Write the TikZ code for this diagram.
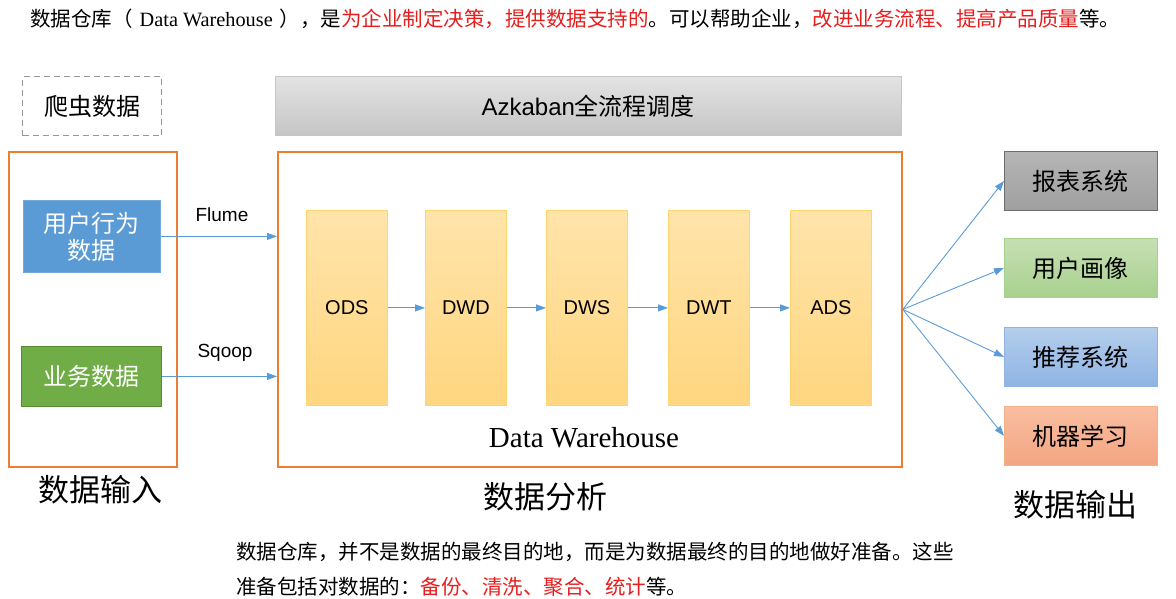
\documentclass[tikz,border=0pt]{standalone}
\usepackage{fontspec}
\setmainfont{Liberation Serif}
\setsansfont{Liberation Sans}
\newfontfamily\cjk{Noto Sans CJK SC}
\usetikzlibrary{arrows.meta}
\definecolor{orng}{RGB}{237,125,49}
\definecolor{arrblue}{RGB}{91,155,213}
\definecolor{boxblue}{RGB}{91,155,213}
\definecolor{boxgreen}{RGB}{112,173,71}
\definecolor{greenedge}{RGB}{84,140,50}
\definecolor{ylwtop}{RGB}{255,228,170}
\definecolor{ylwbot}{RGB}{255,214,128}
\definecolor{ylwedge}{RGB}{255,214,110}
\definecolor{redtxt}{RGB}{230,30,30}
\definecolor{dashgray}{RGB}{150,150,150}
\begin{document}
\begin{tikzpicture}[x=1pt,y=-1pt,
  orangebox/.style={draw=orng,line width=1.8pt,inner sep=0pt,anchor=north west},
  layerbox/.style={draw=ylwedge,line width=0.8pt,top color=ylwtop,bottom color=ylwbot,
     minimum width=81pt,minimum height=195pt,inner sep=0pt,anchor=north west,
     font=\sffamily\fontsize{20}{20}\selectfont},
  outbox/.style={line width=0.8pt,minimum width=153pt,minimum height=59pt,inner sep=0pt,
     anchor=north west,font=\cjk\fontsize{24}{24}\selectfont},
  inbox/.style={line width=0.8pt,inner sep=0pt,anchor=north west,text=white,
     font=\cjk\fontsize{24}{27}\selectfont,align=center},
  arr/.style={draw=arrblue,line width=0.9pt,-{Triangle[length=10pt,width=7pt]}},
  biglabel/.style={font=\cjk\fontsize{31}{31}\selectfont},
  edgelabel/.style={font=\sffamily\fontsize{19}{19}\selectfont}
]
\useasboundingbox (0,0) rectangle (1176,598);

% top text
\node[anchor=base west,inner sep=0pt,font=\cjk\fontsize{20.5}{20.5}\selectfont] (toptext) at (30,26)
 {数据仓库（\hspace{7pt}{\rmfamily\fontsize{20.3}{20.3}\selectfont Data Warehouse}\hspace{7pt}），是\textcolor{redtxt}{为企业制定决策，提供数据支持的}。可以帮助企业，\textcolor{redtxt}{改进业务流程、提高产品质量}等。};

% crawler box
\node[draw=dashgray,dashed,dash pattern=on 6pt off 4pt,line width=1.2pt,minimum width=139pt,minimum height=59pt,
  inner sep=0pt,anchor=north west,font=\cjk\fontsize{24}{24}\selectfont] (crawl) at (22,76) {爬虫数据};

% left orange
\node[orangebox,minimum width=168pt,minimum height=315pt] (inp) at (8,151) {};
\node[inbox,fill=boxblue,draw=boxblue!85!white,minimum width=137pt,minimum height=72pt] (user) at (23,200) {用户行为\\数据};
\node[inbox,fill=boxgreen,draw=greenedge,minimum width=140pt,minimum height=60pt] (biz) at (21,346) {业务数据};
\node[biglabel] (inlabel) at (100,490) {数据输入};

% azkaban
\node[top color=gray!22,bottom color=gray!45,draw=gray!45,line width=0.5pt,minimum width=626pt,minimum height=59pt,
  inner sep=0pt,anchor=north west,font=\fontsize{24}{24}\selectfont] (azk) at (275,76) {\sffamily Azkaban{\cjk 全流程调度}};

% middle orange
\node[orangebox,minimum width=624pt,minimum height=315pt] (dw) at (277,151) {};
\node[layerbox] (ods) at (306,210) {ODS};
\node[layerbox] (dwd) at (425,210) {DWD};
\node[layerbox] (dws) at (546,210) {DWS};
\node[layerbox] (dwt) at (668,210) {DWT};
\node[layerbox] (ads) at (790,210) {ADS};
\node[font=\rmfamily\fontsize{29}{29}\selectfont] (dwlabel) at (584,438) {Data Warehouse};
\node[biglabel] (anlabel) at (545,497) {数据分析};

\draw[arr] (ods.east) -- (dwd.west);
\draw[arr] (dwd.east) -- (dws.west);
\draw[arr] (dws.east) -- (dwt.west);
\draw[arr] (dwt.east) -- (ads.west);

% inputs arrows
\draw[arr] (user.east) -- (user.east -| dw.west);
\draw[arr] (biz.east) -- (biz.east -| dw.west);
\node[edgelabel] (flume) at (222,215) {Flume};
\node[edgelabel] (sqoop) at (225,353) {Sqoop};

% outputs
\node[outbox,top color=gray!58,bottom color=gray!75,draw=gray!85!black] (rep) at (1004,151) {报表系统};
\node[outbox,top color={rgb,255:red,197;green,224;blue,180},bottom color={rgb,255:red,169;green,209;blue,142},draw={rgb,255:red,169;green,209;blue,142}] (prof) at (1004,238) {用户画像};
\node[outbox,top color={rgb,255:red,180;green,206;blue,236},bottom color={rgb,255:red,143;green,180;blue,227},draw={rgb,255:red,143;green,180;blue,227}] (rec) at (1004,327) {推荐系统};
\node[outbox,top color={rgb,255:red,248;green,190;blue,160},bottom color={rgb,255:red,244;green,165;blue,130},draw={rgb,255:red,244;green,177;blue,131}] (ml) at (1004,406) {机器学习};
\node[biglabel] (outlabel) at (1075,505) {数据输出};

\draw[arr] (dw.east) -- (rep.west);
\draw[arr] (dw.east) -- (prof.west);
\draw[arr] (dw.east) -- (rec.west);
\draw[arr] (dw.east) -- (ml.west);

% bottom text
\node[anchor=base west,inner sep=0pt,font=\cjk\fontsize{20.5}{20.5}\selectfont] (bt1) at (236,559)
 {数据仓库，并不是数据的最终目的地，而是为数据最终的目的地做好准备。这些};
\node[anchor=base west,inner sep=0pt,font=\cjk\fontsize{20.5}{20.5}\selectfont] (bt2) at (236,594)
 {准备包括对数据的：\textcolor{redtxt}{备份、清洗、聚合、统计}等。};
\end{tikzpicture}
\end{document}
